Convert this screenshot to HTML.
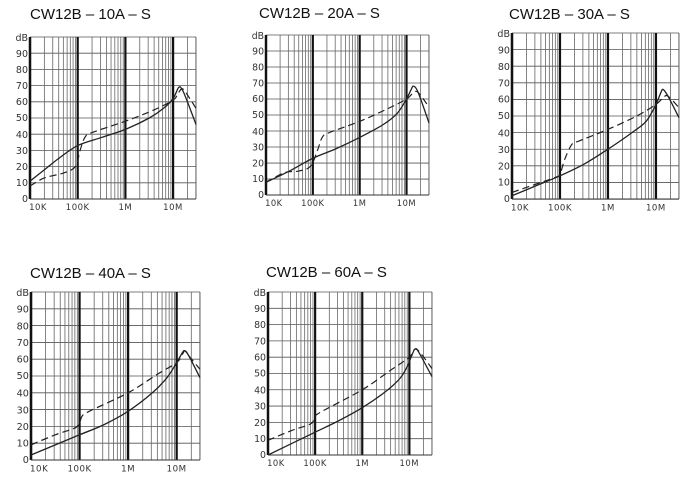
<!DOCTYPE html>
<html><head><meta charset="utf-8"><style>
html,body{margin:0;padding:0;background:#fff;width:700px;height:489px;overflow:hidden}
svg{display:block}
.t{font-family:"Liberation Sans",sans-serif;font-size:15px;fill:#111}
.yl{font-family:"DejaVu Sans","Liberation Sans",sans-serif;font-size:9.5px;fill:#333;text-anchor:end}
.xl{font-family:"DejaVu Sans","Liberation Sans",sans-serif;font-size:8.5px;fill:#333;text-anchor:middle;letter-spacing:0.5px}
</style></head><body>
<svg id="s" width="700" height="489" viewBox="0 0 700 489" xmlns="http://www.w3.org/2000/svg">
<text class="t" x="30" y="19">CW12B – 10A – S</text>
<text class="t" x="259" y="18">CW12B – 20A – S</text>
<text class="t" x="509" y="19">CW12B – 30A – S</text>
<text class="t" x="30" y="278">CW12B – 40A – S</text>
<text class="t" x="266" y="277">CW12B – 60A – S</text>

<g id="c0" transform="translate(30,37) scale(1,1)">
<text class="yl" x="-2" y="4">dB</text><text class="yl" x="-2" y="20">90</text><text class="yl" x="-2" y="36">80</text><text class="yl" x="-2" y="52">70</text><text class="yl" x="-2" y="68">60</text><text class="yl" x="-2" y="84">50</text><text class="yl" x="-2" y="101">40</text><text class="yl" x="-2" y="117">30</text><text class="yl" x="-2" y="133">20</text><text class="yl" x="-2" y="149">10</text><text class="yl" x="-2" y="165">0</text>
<text class="xl" x="8" y="173">10K</text><text class="xl" x="47.7" y="173">100K</text><text class="xl" x="95.4" y="173">1M</text><text class="xl" x="143" y="173">10M</text>
</g>
<g id="c1" transform="translate(266,35) scale(0.982,0.988)">
<text class="yl" x="-2" y="4">dB</text><text class="yl" x="-2" y="20">90</text><text class="yl" x="-2" y="36">80</text><text class="yl" x="-2" y="52">70</text><text class="yl" x="-2" y="68">60</text><text class="yl" x="-2" y="84">50</text><text class="yl" x="-2" y="101">40</text><text class="yl" x="-2" y="117">30</text><text class="yl" x="-2" y="133">20</text><text class="yl" x="-2" y="149">10</text><text class="yl" x="-2" y="165">0</text>
<text class="xl" x="8" y="173">10K</text><text class="xl" x="47.7" y="173">100K</text><text class="xl" x="95.4" y="173">1M</text><text class="xl" x="143" y="173">10M</text>
</g>
<g id="c2" transform="translate(512,33) scale(1.006,1.025)">
<text class="yl" x="-2" y="4">dB</text><text class="yl" x="-2" y="20">90</text><text class="yl" x="-2" y="36">80</text><text class="yl" x="-2" y="52">70</text><text class="yl" x="-2" y="68">60</text><text class="yl" x="-2" y="84">50</text><text class="yl" x="-2" y="101">40</text><text class="yl" x="-2" y="117">30</text><text class="yl" x="-2" y="133">20</text><text class="yl" x="-2" y="149">10</text><text class="yl" x="-2" y="165">0</text>
<text class="xl" x="8" y="173">10K</text><text class="xl" x="47.7" y="173">100K</text><text class="xl" x="95.4" y="173">1M</text><text class="xl" x="143" y="173">10M</text>
</g>
<g id="c3" transform="translate(31,292) scale(1.018,1.037)">
<text class="yl" x="-2" y="4">dB</text><text class="yl" x="-2" y="20">90</text><text class="yl" x="-2" y="36">80</text><text class="yl" x="-2" y="52">70</text><text class="yl" x="-2" y="68">60</text><text class="yl" x="-2" y="84">50</text><text class="yl" x="-2" y="101">40</text><text class="yl" x="-2" y="117">30</text><text class="yl" x="-2" y="133">20</text><text class="yl" x="-2" y="149">10</text><text class="yl" x="-2" y="165">0</text>
<text class="xl" x="8" y="173">10K</text><text class="xl" x="47.7" y="173">100K</text><text class="xl" x="95.4" y="173">1M</text><text class="xl" x="143" y="173">10M</text>
</g>
<g id="c4" transform="translate(268,292) scale(0.988,1.006)">
<text class="yl" x="-2" y="4">dB</text><text class="yl" x="-2" y="20">90</text><text class="yl" x="-2" y="36">80</text><text class="yl" x="-2" y="52">70</text><text class="yl" x="-2" y="68">60</text><text class="yl" x="-2" y="84">50</text><text class="yl" x="-2" y="101">40</text><text class="yl" x="-2" y="117">30</text><text class="yl" x="-2" y="133">20</text><text class="yl" x="-2" y="149">10</text><text class="yl" x="-2" y="165">0</text>
<text class="xl" x="8" y="173">10K</text><text class="xl" x="47.7" y="173">100K</text><text class="xl" x="95.4" y="173">1M</text><text class="xl" x="143" y="173">10M</text>
</g>
</svg>
<script>
var NS="http://www.w3.org/2000/svg",W=166,H=162,D=47.7;
function app(g,n,a){var e=document.createElementNS(NS,n);for(var k in a)e.setAttribute(k,a[k]);g.appendChild(e);return e;}
var data=[
[[[0,11],[0.3,18],[0.6,25],[1,33],[1.5,38],[2,43],[2.5,50],[2.8,56],[3,62],[3.12,69],[3.2,67],[3.3,60],[3.48,46]],
 [[0,8],[0.3,13],[0.7,16],[0.95,20],[1.05,30],[1.15,38],[1.3,41],[2,48],[2.6,55],[3,61],[3.1,65],[3.2,68],[3.35,62],[3.48,56]]],
[[[0,8],[0.5,15],[1,23],[1.5,29],[2,36],[2.5,44],[2.8,51],[3,60],[3.1,66],[3.15,68],[3.25,64],[3.48,45]],
 [[0,8],[0.4,14],[0.7,15],[0.95,18],[1.1,28],[1.2,36],[1.35,39],[2,46],[2.6,54],[3,60],[3.15,64],[3.25,64],[3.48,55]]],
[[[0,2],[0.5,8],[1,14],[1.5,21],[2,30],[2.5,40],[2.8,47],[3,57],[3.1,64],[3.15,66],[3.25,62],[3.48,49]],
 [[0,4],[0.5,9],[0.9,13],[1,15],[1.1,24],[1.25,33],[1.4,35],[2,42],[2.6,50],[3,57],[3.15,61],[3.25,62],[3.48,55]]],
[[[0,3],[0.5,9],[1,15],[1.5,21],[2,29],[2.5,40],[2.8,49],[3,58],[3.12,64],[3.17,65],[3.25,62],[3.48,49]],
 [[0,9],[0.5,15],[0.9,19],[1,22],[1.05,26],[1.2,29],[2,40],[2.6,51],[3,58],[3.12,63],[3.17,65],[3.25,62],[3.48,54]]],
[[[0,0],[0.5,7],[1,14],[1.5,21],[2,29],[2.5,39],[2.8,47],[2.95,54],[3.05,61],[3.12,65],[3.2,63],[3.48,48]],
 [[0,9],[0.5,15],[0.9,19],[1,23],[1.1,26],[2,40],[2.6,52],[3,60],[3.12,65],[3.25,62],[3.48,53]]]];
function path(p){var pts=p.map(function(q){return [q[0]*D,H-q[1]*1.62];});
 var s="M"+pts[0][0]+","+pts[0][1];
 for(var i=0;i<pts.length-1;i++){var p0=pts[Math.max(0,i-1)],p1=pts[i],p2=pts[i+1],p3=pts[Math.min(pts.length-1,i+2)];
  s+=" C"+(p1[0]+(p2[0]-p0[0])/6)+","+(p1[1]+(p2[1]-p0[1])/6)+" "+(p2[0]-(p3[0]-p1[0])/6)+","+(p2[1]-(p3[1]-p1[1])/6)+" "+p2[0]+","+p2[1];}
 return s;}
for(var c=0;c<5;c++){var g=document.getElementById("c"+c);
 var gg=document.createElementNS(NS,"g");g.insertBefore(gg,g.firstChild);
 for(var v=0;v<=10;v++)app(gg,"line",{x1:0,x2:W,y1:v*16.2,y2:v*16.2,stroke:"#555","stroke-width":0.8});
 for(var d=0;d<4;d++)for(var k=1;k<=9;k++){var x=(d+Math.log10(k))*D;if(x>W)continue;
  app(gg,"line",{x1:x,x2:x,y1:0,y2:H,stroke:k==1?"#111":"#666","stroke-width":k==1?2.2:0.8});}
 app(gg,"line",{x1:W,x2:W,y1:0,y2:H,stroke:"#555","stroke-width":0.8});
 app(gg,"line",{x1:0,x2:0,y1:0,y2:H,stroke:"#111","stroke-width":2.4});
 app(gg,"line",{x1:0,x2:W,y1:H,y2:H,stroke:"#333","stroke-width":1});
 app(gg,"path",{d:path(data[c][0]),fill:"none",stroke:"#222","stroke-width":1.3});
 app(gg,"path",{d:path(data[c][1]),fill:"none",stroke:"#222","stroke-width":1.2,"stroke-dasharray":"7,4"});
}
</script>
</body></html>
